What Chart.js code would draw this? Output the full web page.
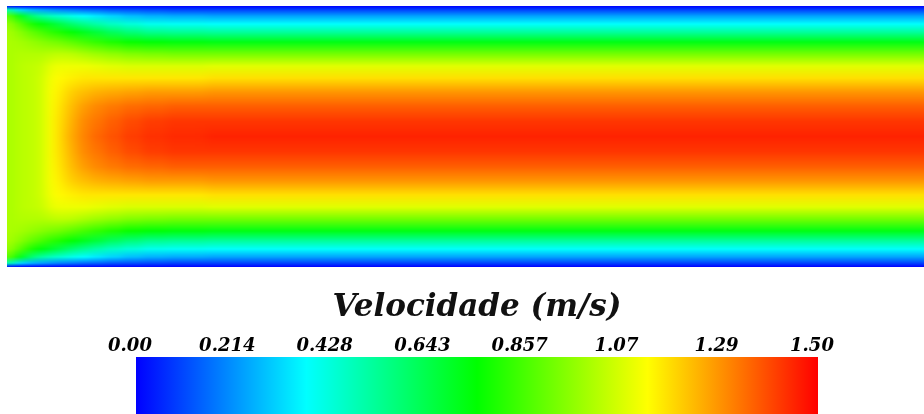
<!DOCTYPE html>
<html>
<head>
<meta charset="utf-8">
<script src="https://cdn.jsdelivr.net/npm/chart.js@4.4.1/dist/chart.umd.min.js"></script>
<style>
  html, body { margin: 0; padding: 0; background: #fff; }
  body { width: 924px; height: 414px; position: relative; overflow: hidden; }
  canvas { position: absolute; }
  #campoBase, #campo { left: 7px; top: 6px; }
  #campo { filter: url(#suaviza); }
  #escala { left: 0; top: 272px; }
</style>
</head>
<body>
<svg width="0" height="0" style="position:absolute">
  <filter id="suaviza" x="0" y="0" width="1" height="1" color-interpolation-filters="sRGB">
    <feGaussianBlur stdDeviation="5 0" edgeMode="duplicate"/>
  </filter>
</svg>
<canvas id="campoBase" width="940" height="261"></canvas>
<canvas id="campo" width="940" height="261"></canvas>
<canvas id="escala" width="924" height="142"></canvas>
<script>
// escala de cores (m/s)
const vMin = 0.0;
const vMax = 1.5;
const tickValues = [0.0, 0.214, 0.428, 0.643, 0.857, 1.07, 1.29, 1.50];
const tickLabels = ['0.00', '0.214', '0.428', '0.643', '0.857', '1.07', '1.29', '1.50'];

// mapa de cores rainbow (posicao relativa -> rgb)
const cmapPos = [0, 0.25, 0.5, 0.75, 1];
const cmapRgb = [[0, 0, 255], [0, 255, 255], [0, 255, 0], [255, 255, 0], [255, 0, 0]];

// limites das colunas ao longo do canal (mm); o canal continua alem do corte da imagem
const xEdges = [0, 8, 18, 28, 38, 46, 54, 62, 72, 84, 98, 115, 135, 160, 200, 940];

// distancia da parede / meia altura (0 = parede, 1 = eixo)
const eta = [0, 0.03, 0.077, 0.138, 0.2, 0.276, 0.368, 0.46, 0.552, 0.659, 0.766, 0.881, 1.0];

// perfis de velocidade (m/s), da parede ate o eixo, um por coluna
const perfis = [
    [0.02, 0.50, 0.88, 0.96, 0.99, 1.00, 1.00, 1.00, 1.00, 1.00, 1.00, 1.00, 1.00],
    [0.00, 0.32, 0.72, 0.88, 0.95, 0.99, 1.01, 1.02, 1.02, 1.02, 1.02, 1.02, 1.02],
    [0.00, 0.27, 0.60, 0.80, 0.90, 0.97, 1.01, 1.03, 1.03, 1.03, 1.03, 1.03, 1.03],
    [0.00, 0.24, 0.52, 0.74, 0.86, 0.95, 1.01, 1.04, 1.05, 1.05, 1.05, 1.05, 1.05],
    [0.00, 0.22, 0.48, 0.70, 0.82, 0.93, 1.02, 1.08, 1.10, 1.11, 1.11, 1.11, 1.11],
    [0.00, 0.20, 0.45, 0.66, 0.80, 0.92, 1.03, 1.10, 1.13, 1.14, 1.15, 1.16, 1.16],
    [0.00, 0.19, 0.43, 0.62, 0.77, 0.90, 1.03, 1.10, 1.14, 1.17, 1.19, 1.20, 1.21],
    [0.00, 0.18, 0.40, 0.58, 0.74, 0.88, 1.02, 1.10, 1.15, 1.20, 1.23, 1.25, 1.26],
    [0.00, 0.16, 0.37, 0.54, 0.70, 0.85, 1.00, 1.10, 1.16, 1.22, 1.27, 1.30, 1.31],
    [0.00, 0.15, 0.34, 0.50, 0.66, 0.82, 0.98, 1.09, 1.16, 1.24, 1.30, 1.33, 1.35],
    [0.00, 0.13, 0.31, 0.46, 0.61, 0.79, 0.96, 1.08, 1.16, 1.25, 1.32, 1.36, 1.38],
    [0.00, 0.12, 0.28, 0.43, 0.57, 0.76, 0.94, 1.07, 1.16, 1.26, 1.34, 1.39, 1.41],
    [0.00, 0.11, 0.26, 0.40, 0.54, 0.74, 0.93, 1.07, 1.16, 1.27, 1.35, 1.41, 1.43],
    [0.00, 0.10, 0.25, 0.39, 0.53, 0.73, 0.92, 1.07, 1.16, 1.27, 1.36, 1.42, 1.44],
    [0.00, 0.10, 0.24, 0.38, 0.52, 0.72, 0.92, 1.08, 1.17, 1.28, 1.36, 1.42, 1.45],
];

function corVel(v) {
    let t = (v - vMin) / (vMax - vMin);
    t = Math.max(0, Math.min(1, t));
    for (let i = 1; i < cmapPos.length; i++) {
        if (t <= cmapPos[i]) {
            const f = (t - cmapPos[i - 1]) / (cmapPos[i] - cmapPos[i - 1]);
            const a = cmapRgb[i - 1], b = cmapRgb[i];
            const c = a.map((ch, j) => Math.round(ch + (b[j] - ch) * f));
            return `rgb(${c[0]}, ${c[1]}, ${c[2]})`;
        }
    }
    return 'rgb(255, 0, 0)';
}

// gradiente vertical de uma coluna (perfil espelhado nas duas metades)
function gradColuna(context, k) {
    const chart = context.chart;
    if (!chart.chartArea) return null;
    const ys = chart.scales.y;
    const top = ys.getPixelForValue(1);
    const bot = ys.getPixelForValue(-1);
    const g = chart.ctx.createLinearGradient(0, top, 0, bot);
    const p = perfis[k];
    eta.forEach((e, i) => {
        g.addColorStop(e / 2, corVel(p[i]));
        g.addColorStop(1 - e / 2, corVel(p[i]));
    });
    return g;
}

function gradEscala(context) {
    const chart = context.chart;
    if (!chart.chartArea) return null;
    const xs = chart.scales.x;
    const g = chart.ctx.createLinearGradient(xs.getPixelForValue(vMin), 0, xs.getPixelForValue(vMax), 0);
    cmapPos.forEach((p, i) => {
        g.addColorStop(p, `rgb(${cmapRgb[i].join(',')})`);
    });
    return g;
}

// campo de velocidade: uma coluna preenchida por perfil
function desenhaCampo(canvasId) {
    const colunas = perfis.map((p, k) => ({
        data: [{ x: xEdges[k], y: 1 }, { x: xEdges[k + 1], y: 1 }],
        fill: 'start',
        pointRadius: 0,
        borderWidth: 0,
        tension: 0,
        backgroundColor: ctx => gradColuna(ctx, k),
    }));

    return new Chart(document.getElementById(canvasId), {
        type: 'line',
        data: { datasets: colunas },
        options: {
            responsive: false,
            animation: false,
            layout: { padding: 0 },
            scales: {
                x: { type: 'linear', min: xEdges[0], max: xEdges[xEdges.length - 1], display: false },
                y: { type: 'linear', min: -1, max: 1, display: false },
            },
            plugins: {
                legend: { display: false },
                tooltip: { enabled: false },
            },
        },
    });
}

// base sem suavizacao (bordas nitidas) e camada suavizada por cima
desenhaCampo('campoBase');
desenhaCampo('campo');

new Chart(document.getElementById('escala'), {
    type: 'bar',
    data: {
        labels: ['Velocidade'],
        datasets: [{
            data: [[vMin, vMax]],
            backgroundColor: gradEscala,
            borderWidth: 0,
            barPercentage: 1,
            categoryPercentage: 1,
        }],
    },
    options: {
        indexAxis: 'y',
        responsive: false,
        animation: false,
        layout: { padding: { left: 136, right: 106, top: 0, bottom: 0 } },
        scales: {
            x: {
                type: 'linear',
                position: 'top',
                min: vMin,
                max: vMax,
                grid: { display: false, drawTicks: false },
                border: { display: false },
                afterBuildTicks: scale => {
                    scale.ticks = tickValues.map(v => ({ value: v }));
                },
                ticks: {
                    autoSkip: false,
                    maxRotation: 0,
                    padding: 0,
                    labelOffset: -6,
                    color: '#000',
                    font: { family: 'DejaVu Serif', style: 'italic', weight: 'bold', size: 18 },
                    callback: (v, i) => tickLabels[i],
                },
            },
            y: { display: false },
        },
        plugins: {
            legend: { display: false },
            tooltip: { enabled: false },
            title: {
                display: true,
                text: 'Velocidade (m/s)',
                fullSize: false,
                color: '#111',
                font: { family: 'DejaVu Serif', style: 'italic', weight: 'bold', size: 31 },
                padding: { top: 17.4, bottom: 8.8 },
            },
        },
    },
});
</script>
</body>
</html>
